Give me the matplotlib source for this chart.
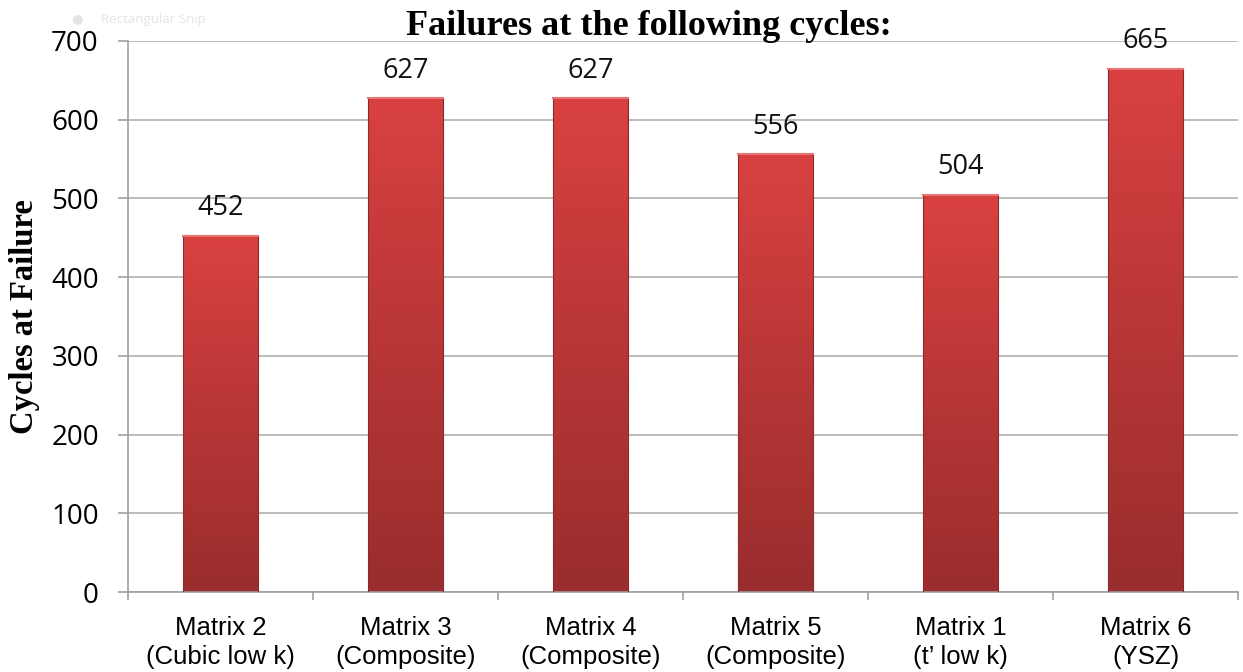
import matplotlib
matplotlib.use("Agg")
import matplotlib.pyplot as plt
import numpy as np
from matplotlib.colors import LinearSegmentedColormap

categories = ["Matrix 2\n(Cubic low k)", "Matrix 3\n(Composite)", "Matrix 4\n(Composite)",
              "Matrix 5\n(Composite)", "Matrix 1\n(t\u2019 low k)", "Matrix 6\n(YSZ)"]
values = [452, 627, 627, 556, 504, 665]
yticks = [0, 100, 200, 300, 400, 500, 600, 700]

fig = plt.figure(figsize=(12.43, 6.72), dpi=100)
ax = fig.add_axes([0.103, 0.119, 0.893, 0.820])

x = np.arange(len(categories))
bars = ax.bar(x, values, width=0.405, color="none", edgecolor="#8e2a2a", linewidth=0.8, zorder=3)

cmap = LinearSegmentedColormap.from_list("redgrad", ["#9a2d2d", "#b83636", "#d94141"])
grad = np.linspace(0, 1, 256).reshape(-1, 1)
for b in bars:
    x0, y0 = b.get_x(), b.get_y()
    w, h = b.get_width(), b.get_height()
    ax.imshow(grad, extent=[x0, x0 + w, y0, y0 + h], origin="lower", cmap=cmap,
              aspect="auto", zorder=2.5, interpolation="bicubic")
    ax.plot([x0, x0 + w], [y0 + h, y0 + h], color="#ea7373", lw=1.5, zorder=3.1)

for xi, v in zip(x, values):
    ax.annotate(str(v), (xi, v), xytext=(0, 15), textcoords="offset points",
                ha="center", va="baseline", fontsize=19.5, fontfamily="Open Sans", color="#111111")

ax.set_ylim(0, 700)
ax.set_yticks(yticks)
ax.set_yticklabels([str(t) for t in yticks], fontsize=20, fontfamily="Open Sans")
ax.set_xticks(x)
ax.set_xticklabels(categories, fontsize=18.5, fontfamily="Liberation Sans", linespacing=1.3)
ax.tick_params(axis="x", length=0, pad=17)
ax.set_xticks(np.arange(len(categories) + 1) - 0.5, minor=True)
ax.tick_params(axis="x", which="minor", length=6, width=1.2, color="#a0a0a0", direction="out")
ax.tick_params(axis="y", length=7, width=1.2, color="#a0a0a0", pad=14)

ax.yaxis.grid(True, color="#b0b0b0", linewidth=1.2, zorder=0)
ax.set_axisbelow(True)
for s in ["top", "right"]:
    ax.spines[s].set_visible(False)
for s in ["left", "bottom"]:
    ax.spines[s].set_color("#a0a0a0")
    ax.spines[s].set_linewidth(1.2)
ax.set_xlim(-0.5, len(categories) - 0.5)

ax.set_ylabel("Cycles at Failure", fontsize=23.5, fontweight="bold", fontfamily="Liberation Serif", labelpad=8)

fig.text(0.522, 1 - 35 / 672, "Failures at the following cycles:", ha="center", va="baseline",
         fontsize=26, fontweight="bold", fontfamily="Liberation Serif")
fig.text(0.058, 1 - 19 / 672, "\u25cf     Rectangular Snip", ha="left", va="center", fontsize=9.5,
         color="#e4e4e4", family=["Open Sans", "DejaVu Sans"])

fig.savefig("out.png", dpi=100)
